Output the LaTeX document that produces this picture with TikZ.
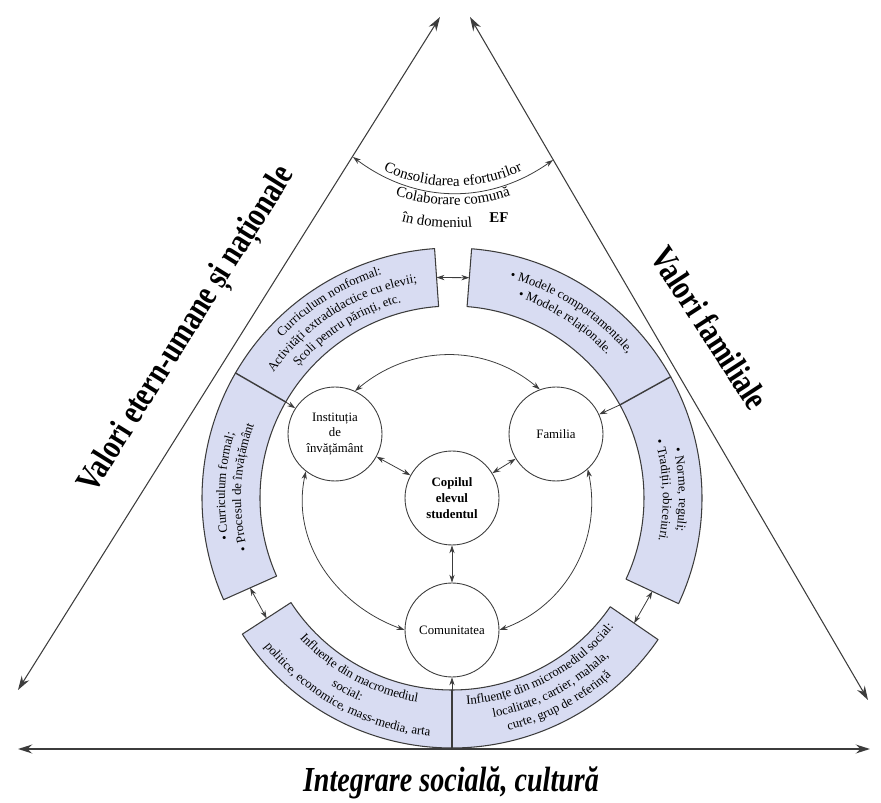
\documentclass[tikz,border=0pt]{standalone}
\usepackage{fontspec}
\setmainfont{Liberation Serif}
\usepackage{graphicx}
\usetikzlibrary{arrows.meta,decorations.text}
\definecolor{ringblue}{RGB}{216,220,242}
\definecolor{linegray}{RGB}{60,60,60}
\newcommand{\ringfont}{\fontsize{7.3}{9}\selectfont}
\newcommand{\consfont}{\fontsize{8.5}{10}\selectfont}
\newcommand{\titlefont}{\fontsize{20}{22}\selectfont\bfseries}
% text bent along a circle arc: radius, start angle, end angle, text
\newcommand{\arctext}[5][\ringfont]{%
  \path[decorate,decoration={text along path,text align=center,text={|#1|#5}}]
    (#3:#2) arc[start angle=#3,end angle=#4,radius=#2];}
\tikzset{
  actor/.style={circle,draw=linegray,fill=white,line width=0.5pt,minimum size=1.88cm,
    inner sep=0pt,align=center,font=\ringfont},
  ringbox/.style={fill=ringblue,draw=linegray,line width=0.6pt},
  link/.style={<->,draw=linegray,line width=0.45pt},
  feed/.style={->,draw=linegray,line width=0.45pt},
  side/.style={arrows={Stealth[length=8pt,width=5pt]-Stealth[length=8pt,width=5pt]},
    draw=linegray,line width=0.6pt},
}
\begin{document}
\begin{tikzpicture}[line cap=round,line join=round,>={Stealth[length=4.5pt,width=3pt]},x=0.02cm,y=0.02cm]
\useasboundingbox (-452,-305) rectangle (429,498);
% triangle
\coordinate (apexL) at (-12,481);
\coordinate (cornL) at (-434,-192);
\coordinate (apexR) at (18,481);
\coordinate (cornR) at (416,-202);
\coordinate (baseL) at (-434,-251);
\coordinate (baseR) at (418,-251);
\draw[side] (cornL) -- (apexL);
\draw[side] (cornR) -- (apexR);
\draw[side,line width=1.3pt] (baseL) -- (baseR);
\node[rotate=58] (valEt) at (-264,168) {\scalebox{0.8}[1]{\titlefont Valori etern-umane și naționale}};
\node[rotate=-57] (valFam) at (258,170) {\scalebox{0.8}[1]{\titlefont Valori familiale}};
\node (integ) at (-1,-285) {\scalebox{0.8}[1]{\titlefont\itshape Integrare socială, cultură}};
% top arc
\coordinate (consL) at (-99,341);
\coordinate (consR) at (101,338);
\draw[link] (consL) to[bend right=36] (consR);
\begin{scope}[shift={(1,477)}]
\arctext[\consfont]{165}{238}{302}{Consolidarea eforturilor}
\arctext[\consfont]{184}{250}{290}{Colaborare comună}
\arctext[\consfont]{207}{252}{279}{în domeniul}
\end{scope}
\node[font=\consfont\bfseries] (ef) at (47,280) {EF};
% ring
\draw[ringbox] (94:250) arc[start angle=94,end angle=204,radius=250] -- (204:192) arc[start angle=204,end angle=94,radius=192] -- cycle;
\draw[ringbox] (213:250) arc[start angle=213,end angle=325.5,radius=250] -- (325.5:192) arc[start angle=325.5,end angle=213,radius=192] -- cycle;
\draw[ringbox] (-25:250) arc[start angle=-25,end angle=85.5,radius=250] -- (85.5:192) arc[start angle=85.5,end angle=-25,radius=192] -- cycle;
\draw[linegray,line width=0.8pt] (150:192) -- (150:250);
\draw[linegray,line width=0.8pt] (270:192) -- (270:250);
\draw[linegray,line width=0.8pt] (29:192) -- (29:250);
\arctext{234}{150}{94}{Curriculum nonformal:}
\arctext{218}{150}{94}{Activități extradidactice cu elevii;}
\arctext{202}{150}{94}{Școli pentru părinți, etc.}
\arctext{227}{204}{150}{• Curriculum formal;}
\arctext{211}{204}{150}{• Procesul de învățământ}
\arctext{227}{85.5}{29}{• Modele comportamentale,}
\arctext{211}{85.5}{29}{• Modele relaționale.}
\arctext{227}{29}{-25}{• Norme, reguli;}
\arctext{211}{29}{-25}{• Tradiții, obiceiuri.}
\arctext{207}{213}{270}{Influențe din macromediul}
\arctext{223}{213}{270}{social:}
\arctext{239}{213}{270}{politice, economice, mass-media, arta}
\arctext{207}{270}{325.5}{Influențe din micromediul social:}
\arctext{223}{270}{325.5}{localitate, cartier, mahala,}
\arctext{239}{270}{325.5}{curte, grup de referință}
\coordinate (topA) at (94:221);
\coordinate (topB) at (85.5:221);
\coordinate (lowLA) at (204:221);
\coordinate (lowLB) at (213:221);
\coordinate (lowRA) at (325.5:221);
\coordinate (lowRB) at (335:221);
\draw[link] (topA) -- (topB);
\draw[link] (lowLA) -- (lowLB);
\draw[link] (lowRA) -- (lowRB);
% actors
\node[actor,font=\ringfont\bfseries] (cop) at (0,0) {Copilul\\elevul\\studentul};
\node[actor] (inst) at (-117,64) {Instituția\\de\\învățământ};
\node[actor] (fam) at (104,64) {Familia};
\node[actor] (comm) at (0,-132) {Comunitatea};
\draw[link] (inst.65) to[out=40,in=140] (fam.110);
\draw[link] (inst.232) to[out=258,in=160] (comm.180);
\draw[link] (fam.312) to[out=282,in=20] (comm.0);
\draw[link] (inst) -- (cop);
\draw[link] (fam) -- (cop);
\draw[link] (cop) -- (comm);
\coordinate (sepL) at (150:192);
\coordinate (sepR) at (29:192);
\coordinate (sepB) at (270:192);
\draw[feed] (sepL) -- (inst);
\draw[feed] (sepR) -- (fam);
\draw[feed] (sepB) -- (comm);
\end{tikzpicture}
\end{document}
